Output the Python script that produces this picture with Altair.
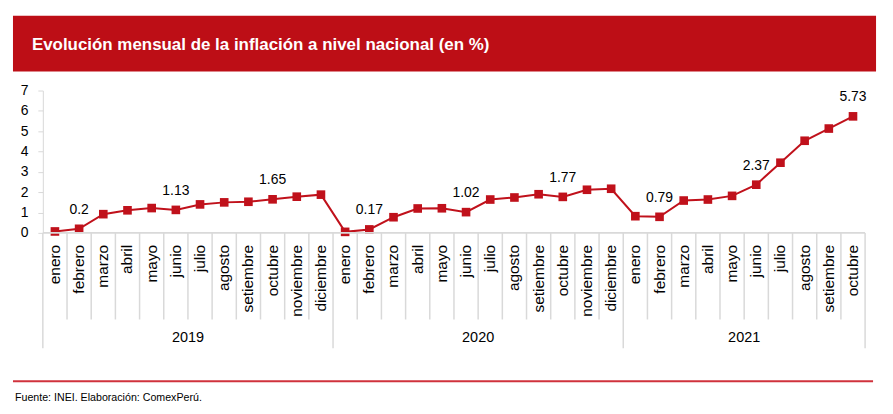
import altair as alt
import pandas as pd

months = ["enero", "febrero", "marzo", "abril", "mayo", "junio", "julio",
          "agosto", "setiembre", "octubre", "noviembre", "diciembre"]
years = ["2019", "2020", "2021"]

values_2019 = [0.07, 0.20, 0.92, 1.11, 1.22, 1.13, 1.40, 1.50, 1.53, 1.65, 1.78, 1.88]
values_2020 = [0.05, 0.17, 0.77, 1.20, 1.21, 1.02, 1.64, 1.74, 1.90, 1.77, 2.12, 2.17]
values_2021 = [0.82, 0.79, 1.59, 1.64, 1.82, 2.37, 3.45, 4.53, 5.13, 5.73]

labels_2019 = ["", "0.2", "", "", "", "1.13", "", "", "", "1.65", "", ""]
labels_2020 = ["", "0.17", "", "", "", "1.02", "", "", "", "1.77", "", ""]
labels_2021 = ["", "0.79", "", "", "", "2.37", "", "", "", "5.73"]

y_ticks = [0, 1, 2, 3, 4, 5, 6, 7]

RED = "#C0111B"
BAR = "#BD0E16"
GRAY = "#D9D9D9"
FONT = "Liberation Sans"

rows = []
for yr, vals, labs in zip(years, [values_2019, values_2020, values_2021],
                          [labels_2019, labels_2020, labels_2021]):
    for m, v, l in zip(months, vals, labs):
        rows.append({"year": yr, "month": m, "value": v, "label": l})
df = pd.DataFrame(rows)
df["idx"] = range(len(df))
df["xc"] = df["idx"] + 0.5
n = len(df)

year_starts = [0]
for yr in years:
    year_starts.append(year_starts[-1] + len([r for r in rows if r["year"] == yr]))
bdf = pd.DataFrame({"b": list(range(n + 1)),
                    "long": [1 if b in year_starts else 0 for b in range(n + 1)]})

ydf = pd.DataFrame({
    "year": years,
    "xc": [(year_starts[i] + year_starts[i + 1]) / 2 for i in range(len(years))],
})

W, H = 826, 143
xs = alt.Scale(domain=[0, n])
ys = alt.Scale(domain=[y_ticks[0], y_ticks[-1]])
yaxis = alt.Axis(
    values=y_ticks, grid=False, domainColor=GRAY, tickColor=GRAY,
    tickSize=5, labelFontSize=14, labelColor="#000000", labelFont=FONT,
    labelPadding=10, title=None, domainWidth=1, labelOverlap=False)
X = alt.X("xc:Q", scale=xs, axis=None)
Y = alt.Y("value:Q", scale=ys, axis=yaxis)

base = alt.Chart(df)

line = base.mark_line(color=RED, strokeWidth=2).encode(x=X, y=Y)
pts = base.mark_square(color=RED, size=75, opacity=1).encode(x=X, y=Y)
labs = base.transform_filter("datum.label != ''").mark_text(
    dy=-19, fontSize=14, font=FONT, color="#000000", baseline="middle").encode(
    x=X, y=Y, text="label:N")

month_txt = base.mark_text(angle=270, align="right", baseline="middle",
                           fontSize=15.5, font=FONT, color="#000000").encode(
    x=X, y=alt.value(H + 12), text="month:N")

bchart = alt.Chart(bdf)
sep_short = bchart.transform_filter("datum.long == 0").mark_rule(color=GRAY, strokeWidth=1.5).encode(
    x=alt.X("b:Q", scale=xs, axis=None), y=alt.value(H), y2=alt.value(H + 87))
sep_long = bchart.transform_filter("datum.long == 1").mark_rule(color=GRAY, strokeWidth=1.5).encode(
    x=alt.X("b:Q", scale=xs, axis=None), y=alt.value(H), y2=alt.value(H + 116))

year_txt = alt.Chart(ydf).mark_text(fontSize=14.5, font=FONT, color="#000000",
                                    baseline="middle").encode(
    x=X, y=alt.value(H + 106), text="year:N")

one = alt.Chart(pd.DataFrame({"t": ["Evolución mensual de la inflación a nivel nacional (en %)"],
                              "f": ["Fuente: INEI. Elaboración: ComexPerú."]}))
baseline = one.mark_rule(color=GRAY, strokeWidth=2).encode(
    x=alt.value(0), x2=alt.value(W), y=alt.value(H))
bar = one.mark_rect(color=BAR).encode(
    x=alt.value(-30), x2=alt.value(W + 11), y=alt.value(-75), y2=alt.value(-19))
title = one.mark_text(align="left", baseline="middle", fontSize=17, fontWeight="bold",
                      font=FONT, color="#FFFFFF").encode(
    x=alt.value(-11), y=alt.value(-46), text="t:N")
foot_line = one.mark_rule(color="#D0323C", strokeWidth=2).encode(
    x=alt.value(-30), x2=alt.value(W + 8), y=alt.value(H + 149))
foot = one.mark_text(align="left", baseline="middle", fontSize=10.7, font=FONT,
                     color="#000000").encode(
    x=alt.value(-28), y=alt.value(H + 166), text="f:N")

chart = alt.layer(
    line, sep_short, sep_long, pts, labs, month_txt, year_txt,
    baseline, bar, title, foot_line, foot
).properties(
    width=W, height=H,
    padding={"left": 35, "top": 82, "right": 20, "bottom": 170},
    autosize=alt.AutoSizeParams(type="none"),
).configure_view(stroke=None)

chart.save("out.html", embed_options={"renderer": "svg", "actions": False})
